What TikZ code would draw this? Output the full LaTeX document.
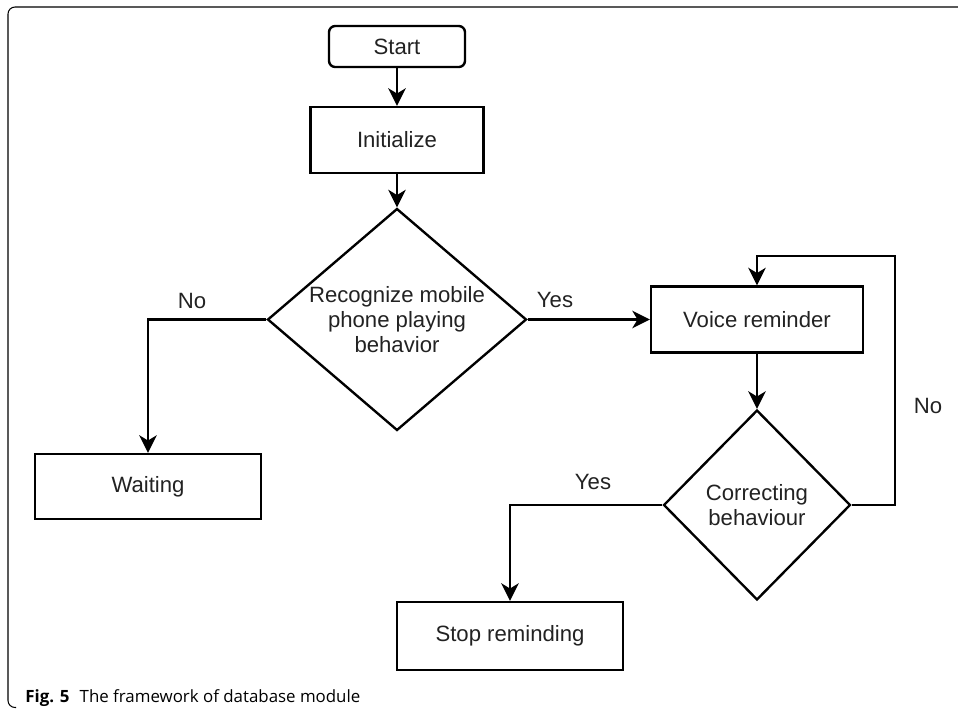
\documentclass[tikz,border=0pt]{standalone}
\usepackage{fontspec}
\setmainfont{Liberation Sans}
\newfontfamily\capfont{Open Sans}
\usetikzlibrary{positioning, shapes.geometric, arrows.meta}
\definecolor{flowLine}{HTML}{000000}
\definecolor{flowText}{HTML}{222222}
\tikzset{
	flowbox/.style={draw=flowLine, line width=1.35pt, fill=white, inner sep=0pt,
		align=center, text=flowText, font=\fontsize{12.6}{14.2}\selectfont},
	startbox/.style={flowbox, rounded corners=3.5pt},
	decision/.style={flowbox, diamond, shape aspect=1.17},
	flowarrow/.style={draw=flowLine, line width=1.35pt,
		-{Stealth[length=10pt, width=10pt, inset=3pt]}},
	flowlabel/.style={text=flowText, inner sep=0pt, font=\fontsize{12.6}{14.2}\selectfont}
}

\begin{document}
\begin{tikzpicture}[x=0.02cm, y=-0.02cm]
					\useasboundingbox (0,0) rectangle (958,708);
					\draw[line width=0.6pt, rounded corners=4pt] (958,7) -- (8,7) -- (8,707.5) -- (16,707.5);

					\node[startbox, minimum width=2.72cm, minimum height=0.82cm] (start) at (397,46.5) {Start};
					\node[flowbox, minimum width=3.46cm, minimum height=1.32cm] (init) at (397,140) {Initialize};
					\node[decision, minimum width=5.18cm, minimum height=4.44cm] (recog) at (397,319.5)
						{Recognize mobile\\phone playing\\behavior};
					\node[flowbox, minimum width=4.52cm, minimum height=1.3cm] (wait) at (148,486.5) {Waiting};
					\node[flowbox, minimum width=4.24cm, minimum height=1.32cm] (voice) at (757,319.5) {Voice reminder};
					\node[decision, shape aspect=1, minimum width=3.74cm, minimum height=3.8cm] (correct) at (757,505)
						{Correcting\\behaviour};
					\node[flowbox, minimum width=4.52cm, minimum height=1.36cm] (stop) at (510,636) {Stop reminding};
					\coordinate (loopturn) at (895,256);

					\draw[flowarrow] (start) -- (init);
					\draw[flowarrow] (init) -- (recog);
					\draw[flowarrow] (recog.west) -| (wait.north);
					\draw[flowarrow] (recog.east) -- (voice.west);
					\draw[flowarrow] (voice) -- (correct);
					\draw[flowarrow] (correct.east) -| (loopturn) -| (voice.north);
					\draw[flowarrow] (correct.west) -| (stop.north);

					\node[flowlabel] (noA) at (192,301) {No};
					\node[flowlabel] (yesA) at (555,300) {Yes};
					\node[flowlabel] (noB) at (928,406) {No};
					\node[flowlabel] (yesB) at (593,482) {Yes};

					\node[anchor=base west, inner sep=0pt, font=\capfont\fontsize{9.6}{11.5}\selectfont] (caption) at (25,702)
						{\textbf{Fig. 5}\hspace{0.6em}The framework of database module};
				\end{tikzpicture}
\end{document}
